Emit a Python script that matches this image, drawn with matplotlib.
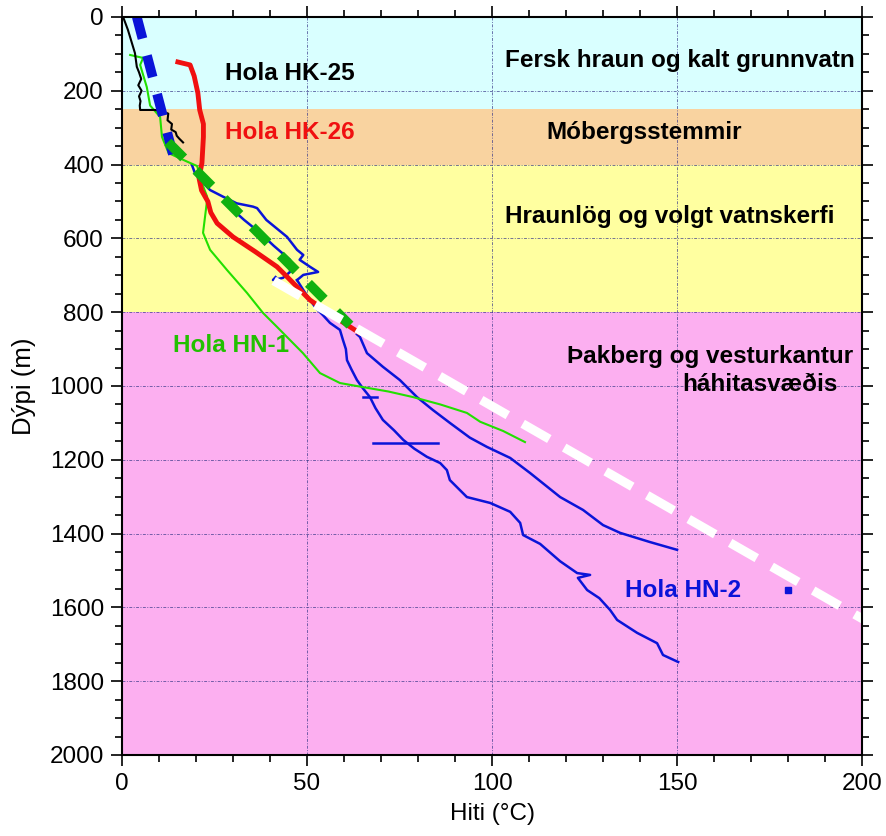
import numpy as np
import matplotlib
matplotlib.use("Agg")
import matplotlib.pyplot as plt
from matplotlib.ticker import MultipleLocator

plt.rcParams['font.family'] = ['Liberation Sans', 'DejaVu Sans']

# jarðlagabelti: (efri dýpt, neðri dýpt, litur)
zone_top = [0, 250, 400, 800]
zone_bottom = [250, 400, 800, 2000]
zone_colors = ["#d9ffff", "#f9d3a0", "#ffffa0", "#fcaff0"]

# Hola HK-25 (svört)
hk25_t = [0.3, 1.6, 3.5, 4.0, 4.6, 5.2, 4.4, 5.3, 4.6, 5.0, 4.8, 4.9, 8.9, 11.0, 12.5, 12.3, 13.5, 13.3, 14.5, 14.8, 15.5, 16.5]
hk25_d = [0, 35, 98, 135, 150, 168, 185, 200, 215, 228, 240, 252, 252, 256, 262, 280, 290, 305, 312, 322, 330, 340]

# Hola HK-26 (rauð)
hk26_t = [15.1, 18.4, 19.5, 20.5, 21.0, 22.0, 22.0, 21.6, 20.8, 21.5, 23.2, 24.0, 25.7, 30.0, 36.0, 41.9, 44.6, 50.8, 57.0, 64.0]
hk26_d = [122, 130, 160, 206, 252, 290, 325, 396, 436, 470, 500, 530, 559, 596, 636, 677, 704, 767, 810, 855]

# Hola HN-1 (græn)
hn1_t = [2.2, 5.7, 4.9, 6.7, 7.6, 10.3, 10.8, 12.6, 17.6, 20.3, 21.6, 23.0, 23.0, 21.9, 23.8, 28.4, 33.8, 38.1, 41.9,
         48.9, 53.5, 58.9, 65.1, 72.0, 78.6, 86.0, 93.2, 96.8, 103.0, 108.9]
hn1_d = [103, 111, 130, 190, 240, 271, 325, 369, 392, 404, 450, 487, 496, 585, 631, 686, 748, 802, 840,
         911, 965, 992, 1003, 1015, 1030, 1050, 1073, 1097, 1122, 1152]

# Hola HN-2 (blá), efri hluti og tvær greinar
hn2a_t = [18.9, 19.7, 21.0, 23.8, 27.3, 31.0, 35.4, 36.5, 39.0, 44.6, 47.3, 49.0, 48.0, 50.8, 53.0, 49.0, 47.3]
hn2a_d = [401, 423, 440, 469, 487, 505, 514, 518, 550, 596, 631, 645, 658, 677, 691, 699, 713]
hn2b_t = [28.0, 29.0, 33.0, 37.3, 41.0, 45.4, 45.4, 43.5, 40.8, 41.5]
hn2b_d = [505, 514, 550, 585, 620, 658, 691, 707, 713, 705]
hn2c_t = [47.3, 49.0, 50.8, 52.5, 54.3, 56.2, 58.9, 59.7, 60.5, 60.8, 62.0, 63.5, 65.0, 67.0, 68.5, 70.5, 73.5, 76.0,
          79.0, 82.4, 86.0, 87.8, 88.6, 93.2, 99.5, 104.9, 107.6, 108.4, 113.0, 118.4, 123.0, 126.5, 123.2, 125.7,
          129.0, 131.9, 133.8, 139.2, 144.6, 146.2, 150.3]
hn2c_d = [713, 740, 767, 790, 808, 829, 848, 875, 900, 930, 955, 984, 1005, 1030, 1060, 1092, 1120, 1146,
          1170, 1192, 1209, 1228, 1255, 1301, 1317, 1341, 1371, 1404, 1428, 1475, 1507, 1512, 1520, 1553,
          1575, 1607, 1634, 1669, 1697, 1729, 1748]
hn2d_t = [63.5, 64.3, 66.2, 70.5, 75.1, 79.7, 84.0, 88.6, 94.0, 98.6, 104.9, 110.3, 118.4, 124.6, 130.0, 134.6, 142.7, 150.0]
hn2d_d = [860, 867, 911, 948, 984, 1030, 1065, 1100, 1140, 1165, 1195, 1236, 1301, 1336, 1377, 1398, 1423, 1444]
bar1_t = [65.0, 69.0]
bar1_d = [1030, 1030]
bar2_t = [67.8, 85.4]
bar2_d = [1154, 1154]
dot_t = [180]
dot_d = [1553]

# hitastigulslínur (brotnar)
trend_hk25_t = [4.0, 14.5]
trend_hk25_d = [0, 400]
trend_hk26_t = [12.4, 61.6]
trend_hk26_d = [339, 835]
trend_hn_t = [41.0, 210.0]
trend_hn_d = [715, 1688]

fig = plt.figure(figsize=(8.86, 8.36), dpi=100)
ax = fig.add_axes([0.1377, 0.0969, 0.8353, 0.8828])

for top, bot, c in zip(zone_top, zone_bottom, zone_colors):
    ax.axhspan(top, bot, color=c, zorder=0, lw=0)

ax.grid(True, which='major', color='#3a3a8a', linestyle=(0, (3, 1.5, 1, 1.5)), linewidth=0.7, alpha=0.7, zorder=1)

ax.plot(hn2a_t, hn2a_d, color='#0a14d8', lw=1.8, zorder=3)
ax.plot(hn2b_t, hn2b_d, color='#0a14d8', lw=1.8, zorder=3)
ax.plot(hn2c_t, hn2c_d, color='#0a14d8', lw=1.8, zorder=3)
ax.plot(hn2d_t, hn2d_d, color='#0a14d8', lw=1.8, zorder=3)
ax.plot(bar1_t, bar1_d, color='#0a14d8', lw=1.8, zorder=3)
ax.plot(bar2_t, bar2_d, color='#0a14d8', lw=1.8, zorder=3)
ax.plot(dot_t, dot_d, 's', color='#0a14d8', ms=4, zorder=3)
ax.plot(hn1_t, hn1_d, color='#22e000', lw=1.5, zorder=4)
ax.plot(hk25_t, hk25_d, color='black', lw=1.5, zorder=4)
ax.plot(hk26_t, hk26_d, color='#f01010', lw=3.5, zorder=5)

ax.plot(trend_hk25_t, trend_hk25_d, color='#0a14d8', lw=7, dashes=(2.3, 1.8), solid_capstyle='butt', zorder=6)
ax.plot(trend_hk26_t, trend_hk26_d, color='#10b010', lw=7, dashes=(2.3, 1.8), solid_capstyle='butt', zorder=6)
ax.plot(trend_hn_t, trend_hn_d, color='white', lw=6.5, dashes=(3.4, 1.9), solid_capstyle='butt', zorder=7)

# textar
bold = dict(fontsize=17.5, fontweight='bold')
ax.text(27.8, 152, "Hola HK-25", color='black', va='center', ha='left', **bold)
ax.text(27.8, 314, "Hola HK-26", color='#f01010', va='center', ha='left', **bold)
ax.text(13.8, 889, "Hola HN-1", color='#22c000', va='center', ha='left', **bold)
ax.text(136, 1553, "Hola HN-2", color='#0a14d8', va='center', ha='left', **bold)
ax.text(198, 117, "Fersk hraun og kalt grunnvatn", color='black', va='center', ha='right', **bold)
ax.text(141, 314, "Móbergsstemmir", color='black', va='center', ha='center', **bold)
ax.text(148, 542, "Hraunlög og volgt vatnskerfi", color='black', va='center', ha='center', **bold)
ax.text(197.5, 921, "Þakberg og vesturkantur", color='black', va='center', ha='right', **bold)
ax.text(193.5, 997, "háhitasvæðis", color='black', va='center', ha='right', **bold)

ax.set_xlim(0, 200)
ax.set_ylim(2000, 0)
ax.xaxis.set_major_locator(MultipleLocator(50))
ax.xaxis.set_minor_locator(MultipleLocator(10))
ax.yaxis.set_major_locator(MultipleLocator(200))
ax.yaxis.set_minor_locator(MultipleLocator(50))
ax.tick_params(which='both', direction='out', top=True, right=True, labelsize=17.5, width=1.2)
ax.tick_params(which='major', length=8, pad=5)
ax.tick_params(which='minor', length=5)
for s in ax.spines.values():
    s.set_linewidth(1.5)
    s.set_zorder(10)

ax.set_xlabel("Hiti (°C)", fontsize=17.5, labelpad=6)
ax.set_ylabel("Dýpi (m)", fontsize=18.5, labelpad=10)

fig.savefig("out.png", dpi=100)
